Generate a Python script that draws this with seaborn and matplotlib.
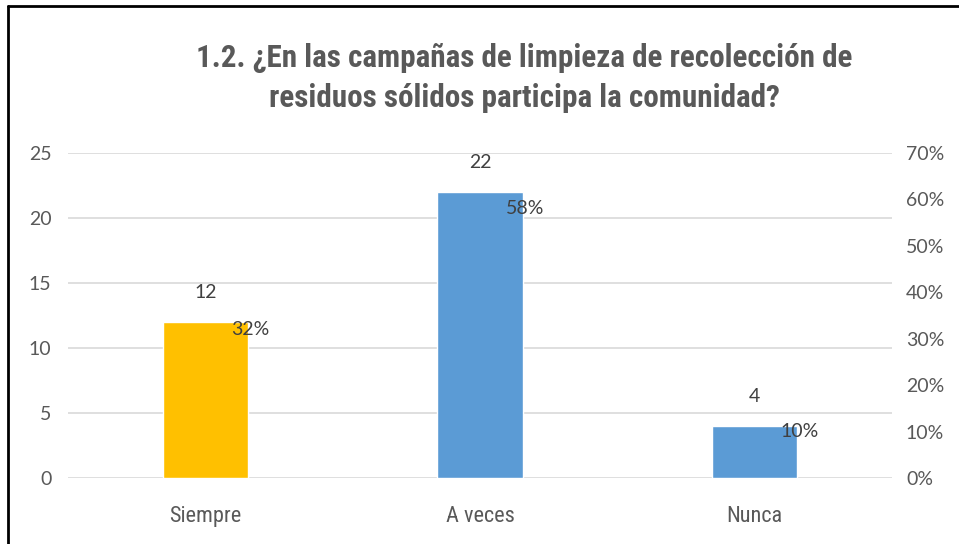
import matplotlib
matplotlib.use("Agg")
import matplotlib.pyplot as plt
import seaborn as sns
import pandas as pd
from matplotlib.lines import Line2D
from matplotlib.ticker import PercentFormatter
from matplotlib import font_manager as fm

# data
categories = ["Siempre", "A veces", "Nunca"]
counts = [12, 22, 4]
percents = [0.32, 0.58, 0.10]
pct_labels = ["32%", "58%", "10%"]
bar_colors = ["#FFC000", "#5B9BD5", "#5B9BD5"]
title = "1.2. ¿En las campañas de limpieza de recolección de\nresiduos sólidos participa la comunidad?"

df = pd.DataFrame({"cat": categories, "n": counts, "pct": percents})

sns.set_theme(style="white")
plt.rcParams['font.family'] = ['Lato', 'DejaVu Sans']
grey = "#595959"


def pick_font(names, fallback):
    for n in names:
        try:
            fm.findfont(fm.FontProperties(family=n), fallback_to_default=False)
            return n
        except Exception:
            pass
    return fallback


cond = pick_font(['Liberation Sans Narrow', 'DejaVu Sans Condensed',
                  'Roboto Condensed', 'Open Sans Condensed'], 'Roboto')

fig = plt.figure(figsize=(9.59, 5.44), dpi=100)
ax = fig.add_axes([68/959, 1 - 478/544, (892-68)/959, (478-153)/544])

sns.barplot(data=df, x="cat", y="n", hue="cat", palette=bar_colors,
            width=0.31, legend=False, ax=ax, saturation=1)

ax.set_ylim(0, 25)
ax.set_xlim(-0.5, 2.5)
ax.set_yticks(range(0, 26, 5))
ax.yaxis.grid(True, color="#D9D9D9", linewidth=1.2)
ax.set_axisbelow(True)
for s in ax.spines.values():
    s.set_visible(False)
ax.set_xlabel("")
ax.set_ylabel("")
ax.tick_params(axis="y", colors=grey, labelsize=14, length=0, pad=12)
ax.tick_params(axis="x", colors=grey, length=0, pad=20)
for lbl in ax.get_xticklabels():
    lbl.set_family([cond, 'DejaVu Sans'])
    lbl.set_fontsize(16)
    lbl.set_stretch("condensed")

# count labels above bars
for i, v in enumerate(counts):
    ax.annotate(str(v), (i, v), xytext=(0, 21), textcoords="offset points",
                ha="center", va="center", fontsize=14, color="#404040")

# secondary axis for percents
ax2 = ax.twinx()
ax2.set_ylim(0, 0.7)
ax2.set_yticks([i / 10 for i in range(8)])
ax2.yaxis.set_major_formatter(PercentFormatter(1.0, decimals=0))
ax2.tick_params(axis="y", colors=grey, labelsize=14, length=0, pad=10)
for s in ax2.spines.values():
    s.set_visible(False)
ax2.grid(False)
for i, p in enumerate(percents):
    ax2.text(i + 0.095, p, pct_labels[i], ha="left", va="center",
             fontsize=14, color="#404040")

t = fig.text(524/959, 1 - 78/544, title, ha="center", va="center",
             fontsize=22, fontweight="bold", color=grey,
             family=[cond, 'DejaVu Sans'], linespacing=1.45)
# fit title width to the reference (~655 px)
fig.canvas.draw()
w = t.get_window_extent().width
t.set_fontsize(22 * 655 / w)

# chart border (top and left visible)
fig.add_artist(Line2D([8/959, 1], [1 - 6/544, 1 - 6/544], color="black", lw=2,
                      transform=fig.transFigure))
fig.add_artist(Line2D([8/959, 8/959], [0, 1 - 6/544], color="black", lw=2,
                      transform=fig.transFigure))

fig.savefig("out.png", dpi=100)
